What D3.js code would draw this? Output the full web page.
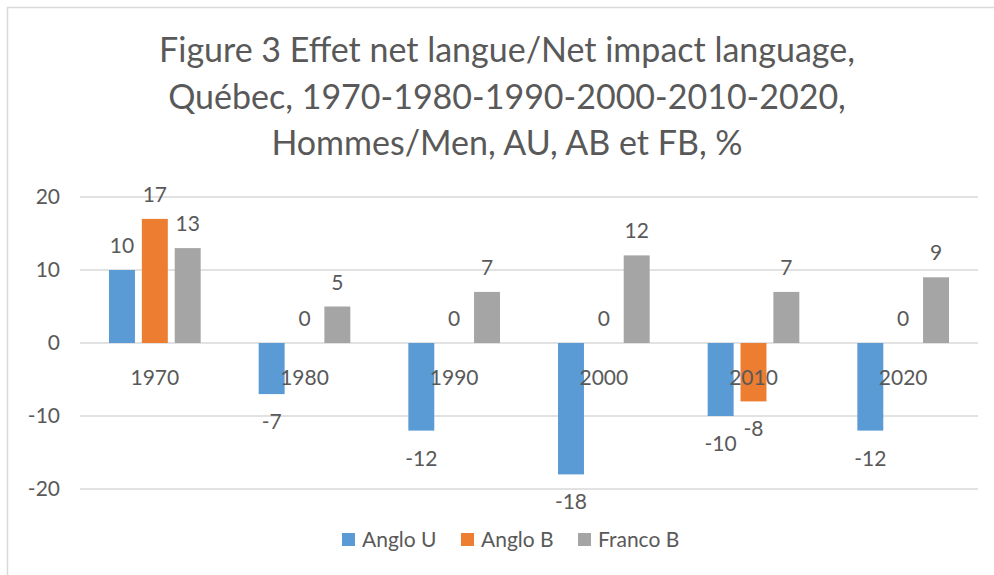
<!DOCTYPE html>
<html>
<head>
<meta charset="utf-8">
<script src="https://cdn.jsdelivr.net/npm/d3@7"></script>
<style>
  body { margin: 0; background: #fff; }
  text { font-family: Lato, "Open Sans", sans-serif; fill: #595959; }
</style>
</head>
<body>
<div id="chart"></div>
<script>
var width = 994, height = 575;

// data
var years = ["1970", "1980", "1990", "2000", "2010", "2020"];
var seriesNames = ["Anglo U", "Anglo B", "Franco B"];
var angloU = [10, -7, -12, -18, -10, -12];
var angloB = [17, 0, 0, 0, -8, 0];
var francoB = [13, 5, 7, 12, 7, 9];
var yTicks = [-20, -10, 0, 10, 20];
var colors = ["#5b9bd5", "#ed7d31", "#a5a5a5"];
var titleLines = [
  "Figure 3 Effet net langue/Net impact language,",
  "Québec, 1970-1980-1990-2000-2010-2020,",
  "Hommes/Men, AU, AB et FB, %"
];

var seriesValues = [angloU, angloB, francoB];

var svg = d3.select("#chart").append("svg")
    .attr("width", width).attr("height", height);

// chart area border
svg.append("rect")
    .attr("x", 7.5).attr("y", 7.5)
    .attr("width", width + 10).attr("height", height + 10)
    .attr("fill", "none").attr("stroke", "#d9d9d9").attr("stroke-width", 1.5);

var title = svg.append("text")
    .attr("text-anchor", "middle")
    .style("font-size", "34px");
title.selectAll("tspan").data(titleLines).enter().append("tspan")
    .attr("x", 507)
    .attr("y", function(d, i) { return 62 + i * 46.5; })
    .text(function(d) { return d; });

var y = d3.scaleLinear().domain([-20, 20]).range([489, 197]);
var x0 = d3.scaleBand().domain(years).range([80, 978]);
var gOuter = 29;
var x1 = d3.scaleBand().domain(seriesNames)
    .range([gOuter, x0.bandwidth() - gOuter])
    .paddingInner(0.21);

// gridlines
svg.append("g").selectAll("line").data(yTicks).enter().append("line")
    .attr("x1", 80).attr("x2", 978)
    .attr("y1", function(d) { return y(d); })
    .attr("y2", function(d) { return y(d); })
    .attr("stroke", "#d9d9d9").attr("stroke-width", 1.5);

// y tick labels
svg.append("g").selectAll("text").data(yTicks).enter().append("text")
    .attr("x", 60)
    .attr("y", function(d) { return y(d); })
    .attr("dy", "0.35em")
    .attr("text-anchor", "end")
    .style("font-size", "21px")
    .text(function(d) { return d; });

var rows = [];
years.forEach(function(yr, i) {
  seriesNames.forEach(function(s, j) {
    rows.push({ year: yr, series: s, idx: j, value: seriesValues[j][i] });
  });
});

svg.append("g").selectAll("rect").data(rows).enter().append("rect")
    .attr("x", function(d) { return x0(d.year) + x1(d.series); })
    .attr("width", x1.bandwidth())
    .attr("y", function(d) { return y(Math.max(0, d.value)); })
    .attr("height", function(d) { return Math.abs(y(d.value) - y(0)); })
    .attr("fill", function(d) { return colors[d.idx]; });

// category labels sit just under the zero line
svg.append("g").selectAll("text").data(years).enter().append("text")
    .attr("x", function(d) { return x0(d) + x0.bandwidth() / 2; })
    .attr("y", y(0) + 42)
    .attr("text-anchor", "middle")
    .style("font-size", "21px")
    .text(function(d) { return d; });

// value labels
svg.append("g").selectAll("text").data(rows).enter().append("text")
    .attr("x", function(d) { return x0(d.year) + x1(d.series) + x1.bandwidth() / 2; })
    .attr("y", function(d) {
      return d.value < 0 ? y(d.value) + 35 : y(d.value) - 17;
    })
    .attr("text-anchor", "middle")
    .style("font-size", "21px")
    .text(function(d) { return d.value; });

// legend
var legend = svg.append("g").attr("transform", "translate(0,540)");
var legX = [342, 461, 578];
var items = legend.selectAll("g").data(seriesNames).enter().append("g")
    .attr("transform", function(d, i) { return "translate(" + legX[i] + ",0)"; });
items.append("rect")
    .attr("x", 0).attr("y", -7).attr("width", 13).attr("height", 13)
    .attr("fill", function(d, i) { return colors[i]; });
items.append("text")
    .attr("x", 20).attr("y", 0).attr("dy", "0.35em")
    .style("font-size", "21px")
    .text(function(d) { return d; });
</script>
</body>
</html>
